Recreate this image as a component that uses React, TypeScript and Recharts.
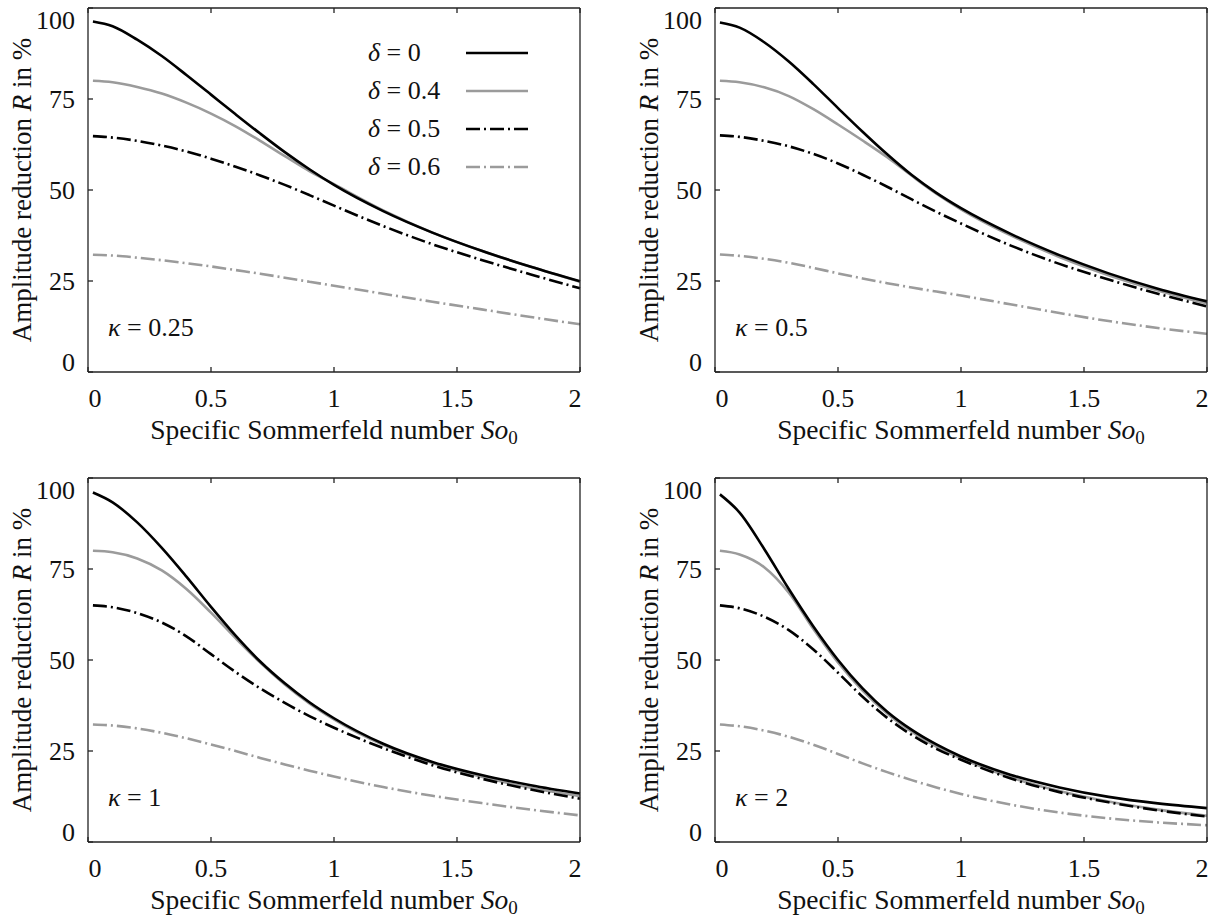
import React from "react";
import { LineChart, Line, XAxis, YAxis, Legend, Label } from "recharts";

// specific Sommerfeld number So0 (x values, shared by all panels)
const so = [0.02, 0.1, 0.2, 0.3, 0.4, 0.5, 0.6, 0.7, 0.8, 0.9, 1.0, 1.2, 1.4, 1.6, 1.8, 2.0];

// kappa = 0.25
const k025_d0 = [96.3, 95, 91.3, 86.8, 81.6, 76.2, 70.8, 65.5, 60.4, 55.7, 51.4, 44.2, 38.3, 33.3, 28.9, 24.9];
const k025_d04 = [80, 79.6, 78.3, 76.5, 74, 71, 67.5, 63.5, 59.3, 55.2, 51.6, 44.4, 38.3, 33.3, 28.9, 24.8];
const k025_d05 = [64.8, 64.4, 63.5, 62.2, 60.6, 58.6, 56.4, 54, 51.4, 48.6, 45.7, 40.1, 35.1, 30.8, 26.8, 23];
const k025_d06 = [32.2, 32, 31.4, 30.7, 29.9, 29, 28, 27, 25.9, 24.8, 23.7, 21.5, 19.3, 17.2, 15.1, 13.1];

// kappa = 0.5
const k05_d0 = [96, 94.6, 90.6, 85.3, 79.1, 72.5, 66, 59.8, 54.1, 49.2, 45, 38, 32.1, 27.1, 22.9, 19.4];
const k05_d04 = [80, 79.6, 78.2, 75.8, 72.2, 68, 63.6, 59, 53.9, 49, 44.7, 37.6, 31.6, 26.6, 22.4, 18.8];
const k05_d05 = [65, 64.6, 63.5, 62, 59.9, 57.3, 54.2, 50.9, 47.4, 44, 40.8, 34.8, 29.7, 25.4, 21.5, 18];
const k05_d06 = [32.3, 31.9, 31.1, 30, 28.6, 27.1, 25.7, 24.4, 23.2, 22.1, 21, 18.6, 16.2, 14, 12.1, 10.5];

// kappa = 1
const k1_d0 = [96, 93.3, 87.8, 80.8, 72.9, 64.6, 56.7, 49.6, 43.6, 38.4, 34, 27, 22, 18.4, 15.6, 13.3];
const k1_d04 = [80, 79.6, 77.9, 74.6, 69.5, 63, 56, 49.3, 43.3, 38.1, 33.7, 26.7, 21.7, 17.9, 14.9, 12.6];
const k1_d05 = [65, 64.5, 62.9, 60.3, 56.5, 51.6, 46.7, 42.2, 38.2, 34.6, 31.4, 25.8, 21.1, 17.4, 14.4, 11.9];
const k1_d06 = [32.3, 32, 31.2, 30, 28.5, 26.8, 25, 23.1, 21.3, 19.6, 18, 15.1, 12.7, 10.7, 8.9, 7.3];

// kappa = 2
const k2_d0 = [95.5, 90.5, 80.5, 69.5, 59.2, 50, 42.2, 35.8, 30.8, 26.8, 23.5, 18.5, 15, 12.4, 10.6, 9.3];
const k2_d04 = [80, 79, 75.5, 68.5, 58.5, 49.3, 41.6, 35.3, 30.3, 26.2, 23, 17.8, 14, 11.1, 8.9, 7.2];
const k2_d05 = [65, 64.2, 61.9, 58.2, 52.9, 46.5, 39.9, 34.1, 29.4, 25.6, 22.6, 17.5, 13.7, 10.9, 8.7, 7];
const k2_d06 = [32.3, 31.8, 30.6, 28.9, 26.7, 24.2, 21.6, 19.2, 17, 15, 13.2, 10.3, 8.1, 6.5, 5.4, 4.6];

const xTicks = [0, 0.5, 1, 1.5, 2];
const yTicks = [0, 25, 50, 75, 100];
const deltas = ["0", "0.4", "0.5", "0.6"];

const FONT = '"Liberation Serif", "Times New Roman", Tinos, "DejaVu Serif", Times, serif';
const GRAY = "#9b9b9b";

// legend order
const SERIES = [
  { key: "d0", color: "#000", dash: undefined },
  { key: "d04", color: GRAY, dash: undefined },
  { key: "d05", color: "#000", dash: "14 4 2 4" },
  { key: "d06", color: GRAY, dash: "14 4 2 4" },
];
// drawing order: grey curves under the black ones
const DRAW_ORDER = [1, 3, 2, 0];

const PANELS = [
  { kappa: "0.25", data: [k025_d0, k025_d04, k025_d05, k025_d06], left: 0, top: 0, legend: true },
  { kappa: "0.5", data: [k05_d0, k05_d04, k05_d05, k05_d06], left: 627, top: 0, legend: false },
  { kappa: "1", data: [k1_d0, k1_d04, k1_d05, k1_d06], left: 0, top: 470, legend: false },
  { kappa: "2", data: [k2_d0, k2_d04, k2_d05, k2_d06], left: 627, top: 470, legend: false },
];

const buildRows = (series: number[][]) =>
  so.map((x, i) => ({
    so: x,
    d0: series[0][i],
    d04: series[1][i],
    d05: series[2][i],
    d06: series[3][i],
  }));

const XTick = (props: any) => {
  const { x, y, payload } = props;
  const v = payload.value;
  const shift = v === 0 ? 7 : v === 2 ? -5 : 0;
  return (
    <g>
      <line x1={x} y1={y} x2={x} y2={y - 5} stroke="#222" strokeWidth={1.3} />
      <text x={x + shift} y={y + 35} textAnchor="middle" fontSize={26} fontFamily={FONT} fill="#111">
        {v}
      </text>
    </g>
  );
};

const TopTick = (props: any) => {
  const { x, y } = props;
  return <line x1={x} y1={y} x2={x} y2={y + 5} stroke="#222" strokeWidth={1.3} />;
};

const YTick = (props: any) => {
  const { x, y, payload } = props;
  const v = payload.value;
  const shift = v === 100 ? 12 : v === 0 ? -10 : 0;
  return (
    <g>
      <line x1={x} y1={y} x2={x + 5} y2={y} stroke="#222" strokeWidth={1.3} />
      <text x={x - 13} y={y + shift + 9} textAnchor="end" fontSize={26} fontFamily={FONT} fill="#111">
        {v}
      </text>
    </g>
  );
};

const RightTick = (props: any) => {
  const { x, y } = props;
  return <line x1={x} y1={y} x2={x - 5} y2={y} stroke="#222" strokeWidth={1.3} />;
};

const XTitle = (props: any) => {
  const { x, y, width } = props.viewBox;
  return (
    <text x={x + width / 2} y={y + 67} textAnchor="middle" fontSize={27.5} fontFamily={FONT} fill="#111">
      Specific Sommerfeld number <tspan fontStyle="italic">So</tspan>
      <tspan fontSize={19} dy={5}>0</tspan>
    </text>
  );
};

const YTitle = (props: any) => {
  const { x, y, height } = props.viewBox;
  const cx = x + 31;
  const cy = y + height / 2;
  return (
    <text x={cx} y={cy} textAnchor="middle" fontSize={27} fontFamily={FONT} fill="#111" transform={`rotate(-90, ${cx}, ${cy})`}>
      Amplitude reduction <tspan fontStyle="italic">R</tspan> in %
    </text>
  );
};

const LegendBox = () => (
  <div style={{ fontFamily: FONT, fontSize: 26, color: "#111" }}>
    {SERIES.map((s, i) => (
      <div key={s.key} style={{ display: "flex", alignItems: "center", height: 38 }}>
        <span style={{ width: 98, whiteSpace: "nowrap" }}>
          <i>δ</i> = {deltas[i]}
        </span>
        <svg width={62} height={8}>
          <line x1={0} y1={4} x2={62} y2={4} stroke={s.color} strokeWidth={2.6} strokeDasharray={s.dash} />
        </svg>
      </div>
    ))}
  </div>
);

const Panel = ({ panel }: { panel: (typeof PANELS)[number] }) => {
  const rows = buildRows(panel.data);
  return (
    <div style={{ position: "absolute", left: panel.left, top: panel.top }}>
      <LineChart width={600} height={470} data={rows} margin={{ top: 7, right: 19, bottom: 28, left: 0 }}>
        <XAxis
          dataKey="so"
          type="number"
          domain={[0, 2]}
          ticks={xTicks}
          interval={0}
          height={70}
          tickSize={0}
          tickMargin={0}
          tickLine={false}
          tick={<XTick />}
          axisLine={{ stroke: "#222", strokeWidth: 1.3 }}
        >
          <Label content={<XTitle />} />
        </XAxis>
        <XAxis
          xAxisId="top"
          orientation="top"
          dataKey="so"
          type="number"
          domain={[0, 2]}
          ticks={xTicks}
          interval={0}
          height={1}
          tickSize={0}
          tickMargin={0}
          tickLine={false}
          tick={<TopTick />}
          axisLine={{ stroke: "#222", strokeWidth: 1.3 }}
        />
        <YAxis
          type="number"
          domain={[0, 100]}
          ticks={yTicks}
          interval={0}
          width={88}
          tickSize={0}
          tickMargin={0}
          tickLine={false}
          tick={<YTick />}
          axisLine={{ stroke: "#222", strokeWidth: 1.3 }}
        >
          <Label content={<YTitle />} />
        </YAxis>
        <YAxis
          yAxisId="right"
          orientation="right"
          type="number"
          domain={[0, 100]}
          ticks={yTicks}
          interval={0}
          width={1}
          tickSize={0}
          tickMargin={0}
          tickLine={false}
          tick={<RightTick />}
          axisLine={{ stroke: "#222", strokeWidth: 1.3 }}
        />
        {panel.legend && (
          <Legend
            layout="horizontal"
            verticalAlign="middle"
            align="center"
            content={<LegendBox />}
            wrapperStyle={{ position: "absolute", left: 368, top: 34, width: 170 }}
          />
        )}
        {DRAW_ORDER.map((idx) => {
          const s = SERIES[idx];
          return (
            <Line
              key={s.key}
              type="monotone"
              dataKey={s.key}
              stroke={s.color}
              strokeWidth={2.6}
              strokeDasharray={s.dash}
              dot={false}
              activeDot={false}
              isAnimationActive={false}
            />
          );
        })}
      </LineChart>
      <div
        style={{
          position: "absolute",
          left: 108,
          top: 315,
          fontFamily: FONT,
          fontSize: 26,
          lineHeight: "26px",
          color: "#111",
          whiteSpace: "nowrap",
        }}
      >
        <i>κ</i> = {panel.kappa}
      </div>
    </div>
  );
}

export default function App() {
  return (
    <div style={{ position: "absolute", left: 0, top: 0, width: 1211, height: 917, background: "#fff" }}>
      {PANELS.map((p) => (
        <Panel key={p.kappa} panel={p} />
      ))}
    </div>
  );
}
